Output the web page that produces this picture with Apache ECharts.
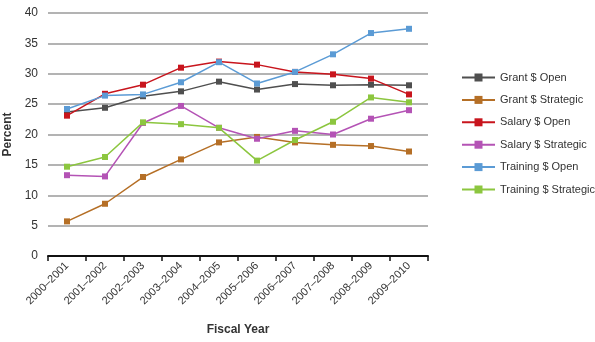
<!DOCTYPE html>
<html><head><meta charset="utf-8">
<script src="https://cdn.jsdelivr.net/npm/echarts@6/dist/echarts.min.js"></script>
<style>html,body{margin:0;padding:0;background:#fff}#c{width:595px;height:342px}</style>
</head><body><div id="c"></div>
<script>
const categories = ['2000–2001','2001–2002','2002–2003','2003–2004','2004–2005','2005–2006','2006–2007','2007–2008','2008–2009','2009–2010'];
const grantOpen = [23.7, 24.4, 26.3, 27.1, 28.7, 27.4, 28.3, 28.1, 28.2, 28.1];
const grantStrategic = [5.7, 8.6, 13.0, 15.9, 18.7, 19.6, 18.7, 18.3, 18.1, 17.2];
const salaryOpen = [23.1, 26.7, 28.2, 31.0, 32.0, 31.5, 30.3, 29.9, 29.2, 26.6];
const salaryStrategic = [13.3, 13.1, 21.9, 24.7, 21.1, 19.3, 20.6, 20.0, 22.6, 24.0];
const trainingOpen = [24.2, 26.4, 26.6, 28.6, 31.9, 28.4, 30.3, 33.2, 36.7, 37.4];
const trainingStrategic = [14.7, 16.3, 22.0, 21.7, 21.1, 15.7, 19.1, 22.1, 26.1, 25.3];
const yTicks = [0, 5, 10, 15, 20, 25, 30, 35, 40];

const seriesDefs = [
  ['Grant $ Open', grantOpen, '#4f4f4f'],
  ['Grant $ Strategic', grantStrategic, '#b56f26'],
  ['Salary $ Open', salaryOpen, '#c8151d'],
  ['Salary $ Strategic', salaryStrategic, '#b453b5'],
  ['Training $ Open', trainingOpen, '#5b9bd5'],
  ['Training $ Strategic', trainingStrategic, '#8cc63f']
];

const chart = echarts.init(document.getElementById('c'));
chart.setOption({
  animation: false,
  textStyle: { fontFamily: 'Liberation Sans, Arial, sans-serif' },
  grid: { left: 48, right: 167, top: 13, bottom: 86, containLabel: false, outerBoundsMode: 'none' },
  legend: {
    orient: 'vertical', left: 456, top: 67, itemGap: 11.4,
    itemWidth: 33, itemHeight: 10,
    textStyle: { fontSize: 11, color: '#333', fontFamily: 'Liberation Sans, Arial, sans-serif' },
    data: seriesDefs.map(d => d[0])
  },
  xAxis: {
    type: 'category', data: categories, boundaryGap: true,
    name: 'Fiscal Year', nameLocation: 'middle', nameGap: 68,
    nameTextStyle: { fontSize: 12, fontWeight: 'bold', color: '#333' },
    axisLine: { lineStyle: { color: '#111', width: 2 } },
    axisTick: { show: true, alignWithLabel: false, length: 5, lineStyle: { color: '#111', width: 1.5 } },
    axisLabel: { rotate: 45, fontSize: 11, color: '#333', margin: 8, interval: 0 }
  },
  yAxis: {
    type: 'value', min: yTicks[0], max: yTicks[yTicks.length - 1], interval: 5,
    name: 'Percent', nameLocation: 'middle', nameGap: 32, nameRotate: 90,
    nameTextStyle: { fontSize: 12, fontWeight: 'bold', color: '#333' },
    axisLine: { show: false }, axisTick: { show: false },
    axisLabel: { fontSize: 12, color: '#333', margin: 10 },
    splitLine: { lineStyle: { color: '#9a9a9a', width: 1.5 } }
  },
  series: seriesDefs.map(d => ({
    name: d[0], type: 'line', data: d[1],
    symbol: 'rect', symbolSize: 6, showSymbol: true,
    lineStyle: { color: d[2], width: 1.5 },
    itemStyle: { color: d[2] }
  }))
});
</script></body></html>
